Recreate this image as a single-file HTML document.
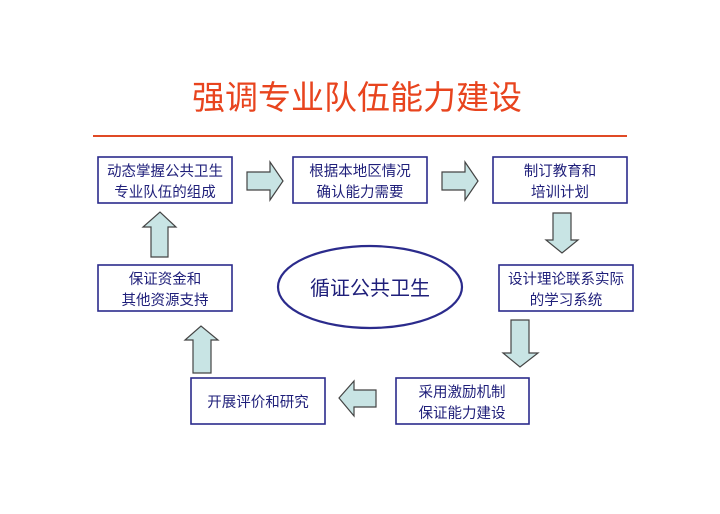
<!DOCTYPE html>
<html><head><meta charset="utf-8"><style>
body{margin:0;background:#fff;}
svg text{font-family:"Liberation Sans","Noto Sans CJK SC",sans-serif;}
</style></head><body>
<svg width="720" height="509" viewBox="0 0 720 509" xmlns="http://www.w3.org/2000/svg">
<text x="357" y="109" text-anchor="middle" font-size="33" fill="#e8441e">强调专业队伍能力建设</text>
<line x1="93" y1="136" x2="627" y2="136" stroke="#e04a25" stroke-width="2"/>
<g fill="#fff" stroke="#2b2b8c" stroke-width="1.6">
<rect x="98" y="157" width="134" height="46"/>
<rect x="293" y="157" width="134" height="46"/>
<rect x="493" y="157" width="134" height="46"/>
<rect x="499" y="265" width="134" height="46"/>
<rect x="396" y="378" width="133" height="46"/>
<rect x="191" y="378" width="134" height="46"/>
<rect x="98" y="265" width="134" height="46"/>
</g>
<ellipse cx="370" cy="287" rx="92" ry="41" fill="#fff" stroke="#2b2b8c" stroke-width="2.2"/>
<g fill="#1f1f7a" font-size="14.5" text-anchor="middle">
<text x="165" y="176">动态掌握公共卫生</text><text x="165" y="197">专业队伍的组成</text>
<text x="360" y="176">根据本地区情况</text><text x="360" y="197">确认能力需要</text>
<text x="560" y="176">制订教育和</text><text x="560" y="197">培训计划</text>
<text x="566" y="284">设计理论联系实际</text><text x="566" y="305">的学习系统</text>
<text x="462" y="397">采用激励机制</text><text x="462" y="418">保证能力建设</text>
<text x="258" y="407">开展评价和研究</text>
<text x="165" y="284">保证资金和</text><text x="165" y="305">其他资源支持</text>
<text x="370" y="295" font-size="20">循证公共卫生</text>
</g>
<g fill="#c8e4e4" stroke="#444" stroke-width="1.2">
<polygon points="247,172 270,172 270,162 283,181 270,200 270,190 247,190"/>
<polygon points="442,172 465,172 465,162 478,181 465,200 465,190 442,190"/>
<polygon points="553,213 571,213 571,240 578,240 562,253 546,240 553,240"/>
<polygon points="511,320 529,320 529,353 538,353 520,367 503,353 511,353"/>
<polygon points="376,390 354,390 354,381 339,398 354,416 354,407 376,407"/>
<polygon points="193,373 211,373 211,340 218,340 201,326 185,340 193,340"/>
<polygon points="151,257 168,257 168,227 176,227 160,212 143,227 151,227"/>
</g>
</svg>
</body></html>
